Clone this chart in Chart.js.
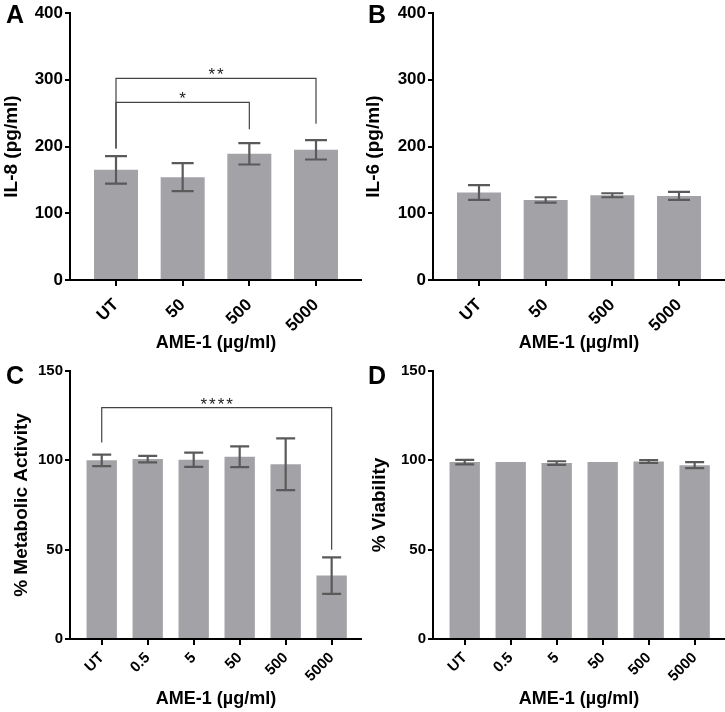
<!DOCTYPE html>
<html>
<head>
<meta charset="utf-8">
<script src="https://cdn.jsdelivr.net/npm/chart.js@4"></script>
<style>
  body { margin: 0; background: #fff; }
  #wrap { position: relative; width: 725px; height: 712px; }
  canvas { position: absolute; }
</style>
</head>
<body>
<div id="wrap">
  <canvas id="chartA" width="362" height="356" style="left:0;top:0"></canvas>
  <canvas id="chartB" width="363" height="356" style="left:362px;top:0"></canvas>
  <canvas id="chartC" width="362" height="356" style="left:0;top:356px"></canvas>
  <canvas id="chartD" width="363" height="356" style="left:362px;top:356px"></canvas>
</div>
<script>
// data
const cytokineLabels = ['UT', '50', '500', '5000'];
const il8Mean = [165, 154, 189, 195];
const il8Err = [20.5, 21, 16, 14.5];
const il6Mean = [131, 120, 127, 126];
const il6Err = [11, 4, 3, 6];

const doseLabels = ['UT', '0.5', '5', '50', '500', '5000'];
const metabolicMean = [100, 100.7, 100.3, 102, 97.8, 35.5];
const metabolicErr = [3.2, 1.8, 4, 5.8, 14.5, 10.2];
const viabilityMean = [99, 99, 98.5, 99, 99.3, 97.3];
const viabilityErr = [1.3, 0, 1, 0, 0.8, 1.7];

const cytokineTicks = [0, 100, 200, 300, 400];
const percentTicks = [0, 50, 100, 150];

// significance brackets: from / to bar index, bracket level, leg ends, stars
const il8Sig = [
  { from: 0, to: 3, at: 302, leftEnd: 197, rightEnd: 234, label: '**' },
  { from: 0, to: 2, at: 266, leftEnd: 197, rightEnd: 226, label: '*' }
];
const metabolicSig = [
  { from: 0, to: 5, at: 129.5, leftEnd: 110, rightEnd: 50, label: '****' }
];

const FONT = "'Liberation Sans', Arial, sans-serif";
const BAR_COLOR = '#a3a3a7';
const ERR_COLOR = '#5a5a5a';

const errorBarPlugin = {
  id: 'errorBars',
  afterDatasetsDraw(chart, args, opts) {
    const ctx = chart.ctx;
    const y = chart.scales.y;
    const bars = chart.getDatasetMeta(0).data;
    ctx.save();
    ctx.strokeStyle = ERR_COLOR;
    ctx.lineWidth = 2.2;
    bars.forEach((bar, i) => {
      const v = chart.data.datasets[0].data[i].y;
      const e = opts.errors[i];
      if (!e) return;
      const top = y.getPixelForValue(v + e);
      const bot = y.getPixelForValue(v - e);
      const half = opts.cap / 2;
      ctx.beginPath();
      ctx.moveTo(bar.x, top); ctx.lineTo(bar.x, bot);
      ctx.moveTo(bar.x - half, top); ctx.lineTo(bar.x + half, top);
      ctx.moveTo(bar.x - half, bot); ctx.lineTo(bar.x + half, bot);
      ctx.stroke();
    });
    ctx.restore();
  }
};

const bracketPlugin = {
  id: 'sigBrackets',
  afterDatasetsDraw(chart, args, opts) {
    const items = opts.items || [];
    const { ctx } = chart;
    const x = chart.scales.x, y = chart.scales.y;
    ctx.save();
    ctx.strokeStyle = '#444';
    ctx.lineWidth = 1.2;
    ctx.fillStyle = '#222';
    ctx.font = '17px ' + FONT;
    ctx.letterSpacing = '2px';
    ctx.textAlign = 'center';
    ctx.textBaseline = 'alphabetic';
    items.forEach(b => {
      const x1 = x.getPixelForValue(b.from), x2 = x.getPixelForValue(b.to);
      const yb = y.getPixelForValue(b.at);
      ctx.beginPath();
      ctx.moveTo(x1, y.getPixelForValue(b.leftEnd));
      ctx.lineTo(x1, yb);
      ctx.lineTo(x2, yb);
      ctx.lineTo(x2, y.getPixelForValue(b.rightEnd));
      ctx.stroke();
      ctx.fillText(b.label, (x1 + x2) / 2 + 1, yb + 2);
    });
    ctx.restore();
  }
};

const letterPlugin = {
  id: 'panelLetter',
  afterDraw(chart, args, opts) {
    const ctx = chart.ctx;
    ctx.save();
    ctx.fillStyle = '#000';
    ctx.font = 'bold 25px ' + FONT;
    ctx.textBaseline = 'alphabetic';
    ctx.fillText(opts.text, opts.x, opts.y);
    ctx.restore();
  }
};

function makePanel(id, p) {
  const ctx = document.getElementById(id).getContext('2d');
  const canvasH = 356;
  return new Chart(ctx, {
    type: 'bar',
    data: {
      datasets: [{
        data: p.mean.map((v, i) => ({ x: i, y: v })),
        backgroundColor: BAR_COLOR,
        borderWidth: 0,
        barPercentage: 0.66,
        categoryPercentage: 1
      }]
    },
    options: {
      responsive: false,
      animation: false,
      layout: { padding: { top: p.top, right: 0, left: 0, bottom: 0 } },
      scales: {
        x: {
          type: 'linear',
          bounds: 'data',
          offset: false,
          min: -0.69,
          max: p.xMax,
          afterBuildTicks: s => { s.ticks = p.labels.map((_, i) => ({ value: i })); },
          afterFit: s => { s.height = canvasH - p.bottom; },
          grid: { offset: false, drawOnChartArea: false, drawTicks: true, tickLength: 6, color: '#000', lineWidth: 2 },
          border: { color: '#000', width: 2 },
          ticks: {
            autoSkip: false,
            minRotation: 45,
            maxRotation: 45,
            padding: p.xTickPad,
            color: '#000',
            font: { family: FONT, size: p.xTickSize, weight: 'bold' },
            callback: v => p.labels[v]
          },
          title: {
            display: true,
            text: 'AME-1 (\u00b5g/ml)',
            color: '#000',
            font: { family: FONT, size: 18, weight: 'bold' },
            padding: { top: 2, bottom: 2 }
          }
        },
        y: {
          min: 0,
          max: p.yTicks[p.yTicks.length - 1],
          afterBuildTicks: s => { s.ticks = p.yTicks.map(v => ({ value: v })); },
          afterFit: s => { s.width = p.left; },
          grid: { drawOnChartArea: false, drawTicks: true, tickLength: 5, color: '#000', lineWidth: 2 },
          border: { color: '#000', width: 2 },
          ticks: {
            padding: 2,
            color: '#000',
            font: { family: FONT, size: p.yTickSize, weight: 'bold' }
          },
          title: {
            display: true,
            text: p.yTitle,
            color: '#000',
            font: { family: FONT, size: 19, weight: 'bold' },
            padding: { top: p.titlePad, bottom: 0 }
          }
        }
      },
      plugins: {
        legend: { display: false },
        tooltip: { enabled: false },
        errorBars: { errors: p.err, cap: p.cap },
        sigBrackets: { items: p.sig || [] },
        panelLetter: { text: p.letter, x: 6, y: p.letterY }
      }
    },
    plugins: [errorBarPlugin, bracketPlugin, letterPlugin]
  });
}

makePanel('chartA', {
  letter: 'A', letterY: 23, labels: cytokineLabels, mean: il8Mean, err: il8Err, sig: il8Sig,
  yTicks: cytokineTicks, yTitle: 'IL-8 (pg/ml)', xMax: 3.69, top: 13, bottom: 280, left: 70,
  titlePad: 0, cap: 22, xTickSize: 17, xTickPad: 9, yTickSize: 17
});
makePanel('chartB', {
  letter: 'B', letterY: 23, labels: cytokineLabels, mean: il6Mean, err: il6Err,
  yTicks: cytokineTicks, yTitle: 'IL-6 (pg/ml)', xMax: 3.69, top: 13, bottom: 280, left: 71,
  titlePad: 0, cap: 22, xTickSize: 17, xTickPad: 9, yTickSize: 17
});
makePanel('chartC', {
  letter: 'C', letterY: 28, labels: doseLabels, mean: metabolicMean, err: metabolicErr, sig: metabolicSig,
  yTicks: percentTicks, yTitle: '% Metabolic Activity', xMax: 5.66, top: 15, bottom: 283, left: 70,
  titlePad: 10, cap: 19, xTickSize: 15, xTickPad: 4, yTickSize: 15
});
makePanel('chartD', {
  letter: 'D', letterY: 28, labels: doseLabels, mean: viabilityMean, err: viabilityErr,
  yTicks: percentTicks, yTitle: '% Viability', xMax: 5.66, top: 15, bottom: 283, left: 71,
  titlePad: 6, cap: 19, xTickSize: 15, xTickPad: 4, yTickSize: 15
});
</script>
</body>
</html>
